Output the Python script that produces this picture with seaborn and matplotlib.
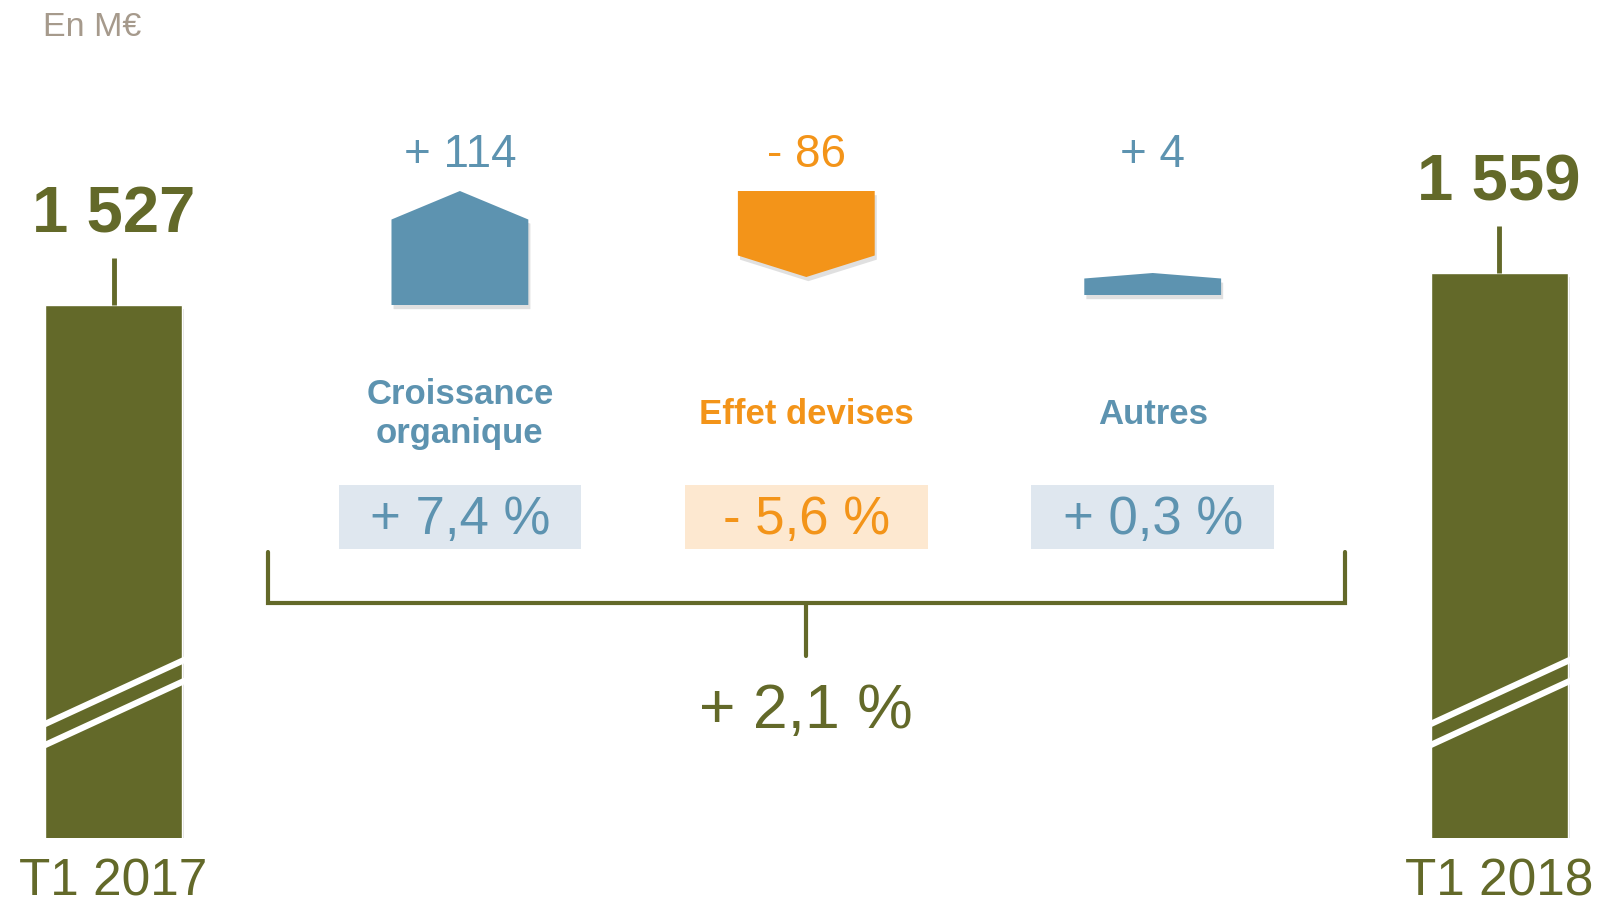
import pandas as pd
import numpy as np
import matplotlib.pyplot as plt
import matplotlib.patheffects as pe
from matplotlib.patches import Polygon, Rectangle
import seaborn as sns

# data (M€)
start_label = "T1 2017"
end_label = "T1 2018"
start_value = 1527
end_value = 1559
step_names = ["Croissance\norganique", "Effet devises", "Autres"]
step_values = [114, -86, 4]
step_pct = [7.4, -5.6, 0.3]
total_pct = 2.1

olive = "#636929"
blue = "#5d93b0"
orange = "#f39419"
box_blue = "#dfe7ef"
box_orange = "#fde8d0"

sns.set_theme(style="white")
plt.rcParams["font.family"] = ["Liberation Sans", "DejaVu Sans"]

fig = plt.figure(figsize=(16.19, 9.07), dpi=100)
ax = fig.add_axes([0, 69 / 907, 1, 838 / 907])

# vertical scale: 1 px per M€, bars broken at the bottom
k = 1.0
ylo = start_value - 533 / k
yhi = ylo + 838 / k


def ypx(py):
    # pixel row (from top of axes) -> data y
    return ylo + (838 - py) / k


def fmt_delta(v):
    return f"{'+' if v > 0 else '-'} {abs(v)}"


def fmt_pct(p):
    return f"{'+' if p > 0 else '-'} {abs(p):.1f} %".replace(".", ",")


order = [start_label] + step_names + [end_label]
df = pd.DataFrame({"period": [start_label, end_label],
                   "value": [start_value, end_value]})
sns.barplot(data=df, x="period", y="value", order=order, color=olive,
            saturation=1, width=0.395, ax=ax)
shadow = [pe.SimplePatchShadow(offset=(1.5, -3), shadow_rgbFace="#999999", alpha=0.3), pe.Normal()]
for p in ax.patches:
    p.set_path_effects(shadow)

bw = 0.395
ext = 0.03  # break lines run a little past the bar edges
slope = 63 / (bw * 346.4)  # px rise per px across
# totals: stems, labels, break marks
for xi, v in [(0, start_value), (4, end_value)]:
    ax.plot([xi, xi], [v, v + 47 / k], color=olive, lw=3.5, solid_capstyle="butt")
    ax.text(xi, v + 73 / k, f"{v:,}".replace(",", " "), ha="center", va="baseline",
            fontsize=47, fontweight="bold", color=olive)
    d = slope * ext * 346.4
    for off in (0, -21):
        ax.plot([xi - bw / 2 - ext, xi + bw / 2 + ext],
                [ylo + (114 + off - d) / k, ylo + (177 + off + d) / k],
                color="white", lw=4.5, solid_capstyle="butt")

# waterfall steps
cum = start_value
min_h = 22
label_y = start_value + max(np.cumsum(step_values)) + 24
for i, (name, dv, pct) in enumerate(zip(step_names, step_values, step_pct)):
    xi = i + 1
    col = blue if dv > 0 else orange
    end = cum + dv
    h = max(abs(dv), min_h)
    tip = 0.25 * h
    l, r = xi - bw / 2, xi + bw / 2
    if dv > 0:
        base = end - h
        verts = [(l, base), (r, base), (r, end - tip), (xi, end), (l, end - tip)]
    else:
        verts = [(l, cum), (r, cum), (r, end + tip), (xi, end), (l, end + tip)]
    ax.add_patch(Polygon(verts, closed=True, facecolor=col, edgecolor="none",
                         path_effects=shadow))
    ax.text(xi, label_y, fmt_delta(dv), ha="center", va="baseline",
            fontsize=33, color=col)
    ax.text(xi, ypx(414), name, ha="center", va="center", fontsize=25,
            fontweight="bold", color=col, linespacing=1.2)
    ax.add_patch(Rectangle((xi - 0.35, ypx(549)), 0.70, 64 / k,
                           facecolor=box_blue if dv > 0 else box_orange, edgecolor="none"))
    ax.text(xi, ypx(534), fmt_pct(pct), ha="center", va="baseline",
            fontsize=38, color=col)
    cum = end

# bracket with total growth
bx = [2 - 1.555, 2 - 1.555, 2 + 1.555, 2 + 1.555]
ax.plot(bx, [ypx(552), ypx(603), ypx(603), ypx(552)], color=olive, lw=3,
        solid_joinstyle="miter")
ax.plot([2, 2], [ypx(603), ypx(656)], color=olive, lw=3)
ax.text(2, ypx(728), fmt_pct(total_pct), ha="center", va="baseline",
        fontsize=45, color=olive)

ax.set_xlim(-113.5 / 346.4, (1619 - 113.5) / 346.4)
ax.set_ylim(ylo, yhi)
ax.set_xticks([0, 4], [start_label, end_label])
ax.tick_params(axis="x", length=0, pad=14, labelsize=37, labelcolor=olive)
ax.set_yticks([])
ax.set_xlabel("")
ax.set_ylabel("")
sns.despine(ax=ax, left=True, bottom=True)

fig.text(43 / 1619, 1 - 36 / 907, "En M€", fontsize=24.5, color="#a69a8c", va="baseline")

plt.savefig("out.png", dpi=100)
